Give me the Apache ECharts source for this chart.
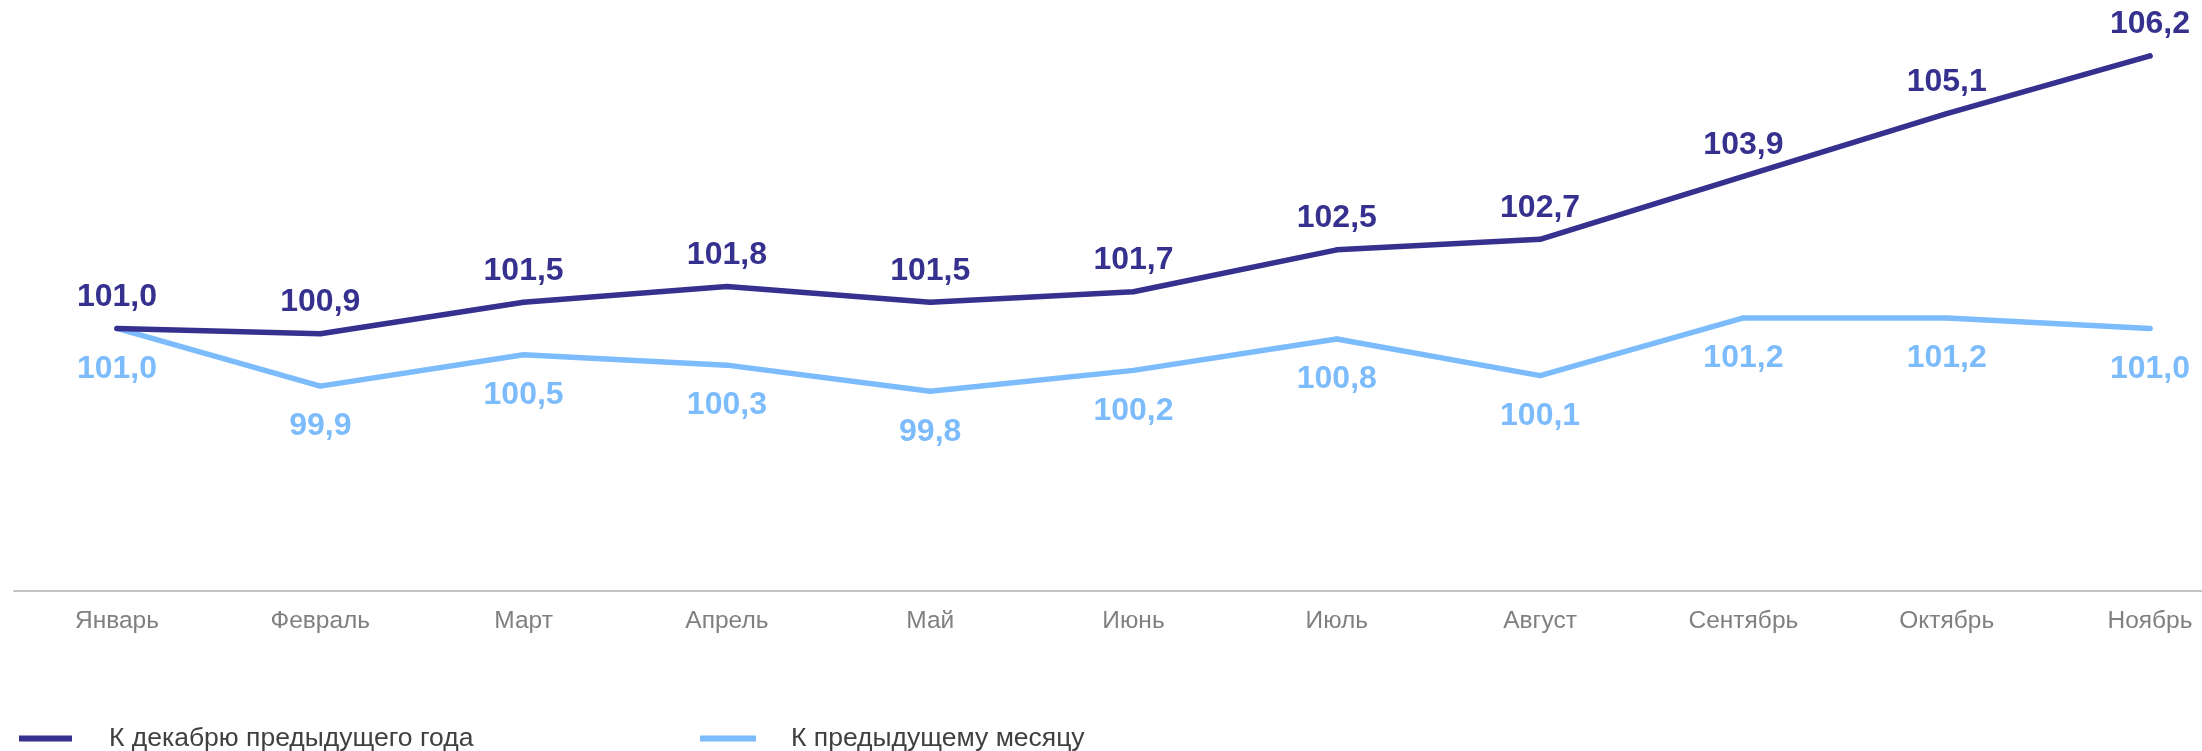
<!DOCTYPE html>
<html>
<head>
<meta charset="utf-8">
<script src="https://cdn.jsdelivr.net/npm/echarts@6/dist/echarts.min.js"></script>
<style>
  html, body { margin: 0; padding: 0; background: #ffffff; }
  #chart { width: 2202px; height: 751px; }
</style>
</head>
<body>
<div id="chart"></div>
<script>
const categories = ['Январь', 'Февраль', 'Март', 'Апрель', 'Май', 'Июнь', 'Июль', 'Август', 'Сентябрь', 'Октябрь', 'Ноябрь'];
const seriesNames = ['К декабрю предыдущего года', 'К предыдущему месяцу'];
const toDecember = [101.0, 100.9, 101.5, 101.8, 101.5, 101.7, 102.5, 102.7, 103.9, 105.1, 106.2];
const toPrevMonth = [101.0, 99.9, 100.5, 100.3, 99.8, 100.2, 100.8, 100.1, 101.2, 101.2, 101.0];

const DARK = '#36318f';
const LIGHT = '#7dbcfc';
const FONT = "'Liberation Sans', Arial, sans-serif";
const fmt = p => p.value.toFixed(1).replace('.', ',');

const chart = echarts.init(document.getElementById('chart'), null, { renderer: 'canvas' });
chart.setOption({
  animation: false,
  backgroundColor: '#ffffff',
  textStyle: { fontFamily: FONT },
  grid: [
    { left: 117, right: 52, top: 14, bottom: 160.5 },
    { left: 14, right: 0, top: 14, bottom: 160.5 }
  ],
  xAxis: [
    {
      type: 'category', gridIndex: 0, data: categories, boundaryGap: false,
      axisLine: { show: false }, axisTick: { show: false },
      axisLabel: { color: '#808080', fontSize: 24.5, margin: 18, fontFamily: FONT },
      splitLine: { show: false }
    },
    {
      type: 'value', gridIndex: 1, min: 0, max: 1,
      axisLine: { show: true, onZero: false, lineStyle: { color: '#c3c3c3', width: 2 } },
      axisTick: { show: false }, axisLabel: { show: false }, splitLine: { show: false }
    }
  ],
  yAxis: [
    { type: 'value', gridIndex: 0, min: 96, max: 107, show: false, splitLine: { show: false } },
    { type: 'value', gridIndex: 1, min: 0, max: 1, show: false, splitLine: { show: false } }
  ],
  legend: [
    {
      left: 14, top: 720, icon: 'rect', itemWidth: 53, itemHeight: 6,
      data: [seriesNames[0]],
      textStyle: { fontSize: 26.5, color: '#404040', padding: [0, 0, 0, 32], fontFamily: FONT }
    },
    {
      left: 695, top: 720, icon: 'rect', itemWidth: 56, itemHeight: 6,
      data: [seriesNames[1]],
      textStyle: { fontSize: 26.5, color: '#404040', padding: [0, 0, 0, 30], fontFamily: FONT }
    }
  ],
  series: [
    {
      name: seriesNames[0], type: 'line', xAxisIndex: 0, yAxisIndex: 0,
      data: toDecember, symbol: 'circle', symbolSize: 5,
      itemStyle: { color: DARK },
      lineStyle: { color: DARK, width: 5.5, cap: 'round', join: 'round' },
      label: {
        show: true, position: 'top', distance: 13, formatter: fmt,
        color: DARK, fontSize: 32, fontWeight: 'bold', fontFamily: FONT
      },
      z: 3
    },
    {
      name: seriesNames[1], type: 'line', xAxisIndex: 0, yAxisIndex: 0,
      data: toPrevMonth, symbol: 'circle', symbolSize: 5,
      itemStyle: { color: LIGHT },
      lineStyle: { color: LIGHT, width: 5.5, cap: 'round', join: 'round' },
      label: {
        show: true, position: 'bottom', distance: 22, formatter: fmt,
        color: LIGHT, fontSize: 32, fontWeight: 'bold', fontFamily: FONT
      },
      z: 2
    }
  ]
});
</script>
</body>
</html>
